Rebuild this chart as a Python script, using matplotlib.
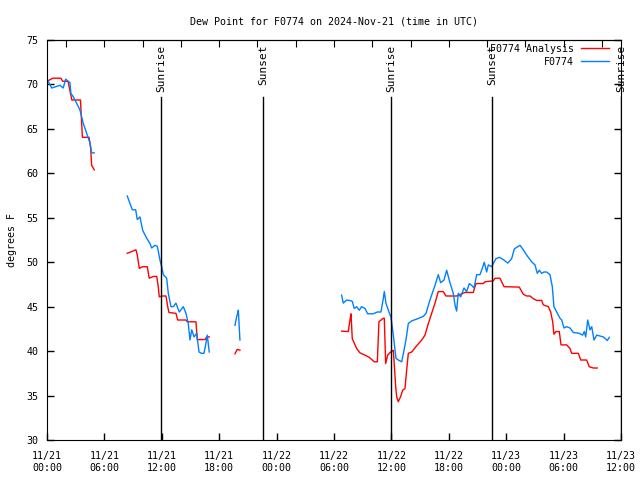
import numpy as np
import pandas as pd
import matplotlib
matplotlib.use("Agg")
import matplotlib.pyplot as plt
import matplotlib.dates as mdates

nan = np.nan
start = pd.Timestamp("2024-11-21 00:00")

# hours since 2024-11-21 00:00 UTC, nan marks a gap in the record
obs_hours = [
    0.0, 0.5, 1.36, 1.7, 1.95, 2.4, 2.5, 2.75, 3.1, 3.45, 3.8, 4.15, 4.5, 4.67, 4.94, nan,
    8.39, 8.92, 9.27, 9.44, 9.72, 10.0, 10.42, 10.77, 10.94, 11.29, 11.53, 11.81, 11.99,
    12.16, 12.51, 12.68, 12.96, 13.2, 13.48, 13.83, 14.25, 14.53, 14.77, 14.95, 15.13,
    15.37, 15.65, 15.89, 16.17, 16.41, 16.62, 16.76, 16.96, nan,
    19.65, 19.83, 19.93, 20.0, 20.17, nan,
    30.8, 30.97, 31.33, 31.6, 31.91, 32.12, 32.37, 32.64, 32.89, 33.24, 33.52, 34.11,
    34.53, 34.91, 35.15, 35.26, 35.43, 35.68, 35.96, 36.2, 36.48, 36.72, 37.08, 37.32,
    37.52, 37.77, 38.12, 38.64, 39.33, 39.62, 40.03, 40.56, 40.9, 41.15, 41.5, 41.78,
    42.12, 42.47, 42.65, 42.82, 42.99, 43.24, 43.59, 43.87, 44.14, 44.39, 44.63, 44.92,
    45.26, 45.5, 45.71, 45.96, 46.13, 46.48, 46.93, 47.28, 47.7, 48.16, 48.57, 48.85,
    49.44, 49.79, 50.14, 50.66, 51.01, 51.25, 51.46, 51.71, 51.95, 52.23, 52.58, 52.82,
    52.99, 53.28, 53.62, 53.8, 54.04, 54.32, 54.67, 55.01, 55.64, 55.99, 56.16, 56.31,
    56.52, 56.76, 56.94, 57.18, 57.46, 57.8, 58.15, 58.57, 58.78,
]
obs_dewpt = [
    70.6, 69.6, 69.9, 69.6, 70.6, 70.2, 69.0, 68.6, 67.9, 67.1, 65.6, 64.5, 63.4, 62.3, 62.3, nan,
    57.45, 55.9, 55.9, 54.8, 55.1, 53.6, 52.7, 52.1, 51.6, 51.9, 51.8, 50.25, 49.5,
    48.6, 48.2, 46.5, 45.0, 45.0, 45.4, 44.4, 45.0, 44.25, 43.1, 41.25, 42.4,
    41.6, 42.0, 39.9, 39.75, 39.75, 40.9, 41.8, 39.9, nan,
    42.9, 43.9, 44.25, 44.6, 41.25, nan,
    46.3, 45.4, 45.75, 45.7, 45.6, 44.8, 45.0, 44.6, 45.0, 44.8, 44.2, 44.2,
    44.4, 44.4, 45.9, 46.7, 45.4, 44.6, 43.8, 41.8, 39.2, 39.0, 38.8, 40.1,
    41.25, 43.1, 43.4, 43.6, 43.9, 44.25, 45.75, 47.4, 48.6, 47.7, 48.0, 49.1,
    47.7, 46.5, 45.2, 44.5, 46.5, 46.1, 47.1, 46.7, 47.6, 47.4, 47.1, 48.6,
    48.6, 49.3, 50.0, 48.9, 49.7, 49.5, 50.4, 50.55, 50.3, 49.9, 50.4, 51.5,
    51.9, 51.4, 50.8, 50.05, 49.7, 48.75, 49.1, 48.75, 48.9, 48.9, 48.6, 47.25,
    45.0, 44.4, 43.7, 43.5, 42.6, 42.75, 42.6, 42.1, 42.0, 41.8, 42.2, 41.6,
    43.5, 42.4, 42.75, 41.25, 41.8, 41.7, 41.6, 41.2, 41.55,
]

ana_hours = [
    0.0, 0.6, 1.45, 1.65, 2.2, 2.6, 3.5, 3.7, 4.4, 4.57, 4.67, 4.94, nan,
    8.39, 8.85, 9.3, 9.44, 9.65, 10.0, 10.48, 10.69, 11.11, 11.47, 11.63, 11.74, 11.99,
    12.44, 12.62, 12.75, 13.48, 13.66, 14.53, 14.67, 15.57, 15.71, 16.52, 16.69, 16.96, nan,
    19.65, 19.89, 20.17, nan,
    30.8, 31.49, 31.67, 31.78, 31.91, 32.12, 32.37, 32.72, 33.24, 33.69, 34.21, 34.53,
    34.7, 35.15, 35.26, 35.4, 35.61, 35.93, 36.2, 36.27, 36.45, 36.55, 36.72, 36.97,
    37.18, 37.42, 37.6, 37.77, 38.12, 38.64, 39.17, 39.51, 39.86, 40.21, 40.56, 40.9,
    41.42, 41.71, 42.82, 43.69, 44.56, 44.84, 45.61, 45.78, 46.65, 46.83, 47.35, 47.77,
    49.37, 49.79, 50.14, 50.49, 50.83, 51.19, 51.71, 51.88, 52.4, 52.65, 52.86, 52.99,
    53.2, 53.55, 53.73, 54.32, 54.67, 54.85, 55.54, 55.79, 56.41, 56.68, 57.1, 57.52,
]
ana_dewpt = [
    70.35, 70.7, 70.7, 70.35, 70.35, 68.25, 68.25, 64.05, 64.05, 62.8, 60.9, 60.4, nan,
    51.0, 51.2, 51.4, 50.8, 49.3, 49.5, 49.5, 48.2, 48.4, 48.4, 47.25, 46.1, 46.2,
    46.2, 45.0, 44.35, 44.25, 43.5, 43.5, 43.3, 43.3, 41.3, 41.3, 41.6, 41.6, nan,
    39.7, 40.2, 40.1, nan,
    42.25, 42.2, 43.5, 44.2, 41.4, 40.9, 40.3, 39.8, 39.55, 39.3, 38.8, 38.8,
    43.3, 43.7, 43.7, 38.6, 39.55, 39.9, 40.1, 39.0, 36.0, 34.9, 34.3, 34.9,
    35.6, 35.8, 37.9, 39.75, 39.9, 40.6, 41.25, 41.8, 43.1, 44.25, 45.4, 46.7,
    46.7, 46.2, 46.2, 46.6, 46.6, 47.6, 47.6, 47.8, 47.9, 48.2, 48.2, 47.25,
    47.2, 46.4, 46.2, 46.2, 45.9, 45.7, 45.7, 45.2, 45.0, 44.4, 43.3, 41.9,
    42.2, 42.2, 40.7, 40.7, 40.3, 39.75, 39.75, 39.0, 39.0, 38.25, 38.1, 38.1,
]

sun_labels = ["Sunrise", "Sunset", "Sunrise", "Sunset", "Sunrise"]
sun_hours = [11.92, 22.58, 35.96, 46.5, 59.98]


def to_time(hours):
    return [start + pd.Timedelta(hours=h) if not np.isnan(h) else pd.NaT for h in hours]


FS = 7.2
plt.rcParams["font.family"] = ["DejaVu Sans Mono"]
plt.rcParams["font.size"] = FS

fig = plt.figure(figsize=(6.4, 4.8), dpi=100)
ax = fig.add_axes([0.0734, 0.0833, 0.8969, 0.8334])

ana_t = pd.Series(to_time(ana_hours))
obs_t = pd.Series(to_time(obs_hours))
ax.plot(ana_t, ana_dewpt, color="#ff0000", lw=1, label="F0774 Analysis")
ax.plot(obs_t, obs_dewpt, color="#0080ff", lw=1, label="F0774")

for lab, h in zip(sun_labels, sun_hours):
    t = start + pd.Timedelta(hours=h)
    ax.plot([t, t], [30, 68.6], color="black", lw=1)
    ax.text(t, 74.5, lab, rotation=90, ha="center", va="top", fontsize=8)

x0 = start
x1 = start + pd.Timedelta(hours=60)
ax.set_xlim(x0, x1)
ax.set_ylim(30, 75)
ax.set_yticks(np.arange(30, 76, 5))
ax.xaxis.set_major_locator(mdates.HourLocator(byhour=[0, 6, 12, 18]))
ax.xaxis.set_major_formatter(mdates.DateFormatter("%m/%d\n%H:%M"))
ax.tick_params(direction="in", length=5, width=1, top=False, right=True, labelsize=FS)
ax.tick_params(axis="x", pad=8)
ax.tick_params(axis="y", pad=6)

top = ax.secondary_xaxis("top")
top.set_xticks([start + pd.Timedelta(hours=h) for h in range(2, 60, 4)])
top.tick_params(direction="in", length=5, labeltop=False)

ax.set_ylabel("degrees F", fontsize=FS, labelpad=7)
ax.set_title("Dew Point for F0774 on 2024-Nov-21 (time in UTC)", fontsize=FS, pad=11)

leg = ax.legend(loc="upper right", bbox_to_anchor=(0.986, 1.0), frameon=False,
                fontsize=FS, handlelength=2.8, markerfirst=False, borderaxespad=0,
                handletextpad=0.7, labelspacing=0.3)

fig.savefig("out.png", dpi=100)
